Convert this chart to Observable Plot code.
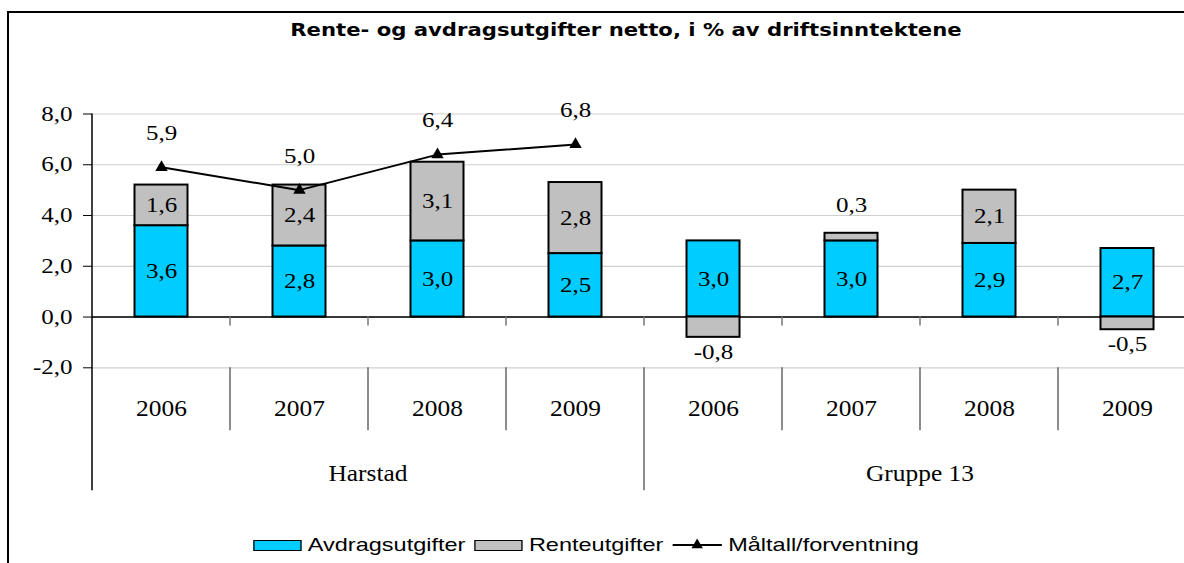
<!DOCTYPE html>
<html><head><meta charset="utf-8">
<script src="https://cdn.jsdelivr.net/npm/d3@7"></script>
<script src="https://cdn.jsdelivr.net/npm/@observablehq/plot@0.6"></script>
<style>
html,body{margin:0;padding:0;background:#fff;overflow:hidden;}
#page{position:relative;width:1184px;height:563px;overflow:hidden;background:#fff;}
#frame{position:absolute;left:7px;top:11px;width:1300px;height:700px;border-left:2px solid #000;border-top:2px solid #000;box-sizing:border-box;}
#title{position:absolute;left:0;top:19px;width:1252px;text-align:center;font-family:"DejaVu Sans",sans-serif;font-weight:bold;font-size:17.5px;line-height:22px;transform:scaleX(1.21);transform-origin:626px 50%;white-space:nowrap;color:#000;}
#chart{position:absolute;left:0;top:60px;}
#legend{position:absolute;left:0;top:536px;width:1181px;height:18px;display:flex;justify-content:center;align-items:center;transform:scaleX(1.27);transform-origin:590.5px 50%;font-family:"Liberation Sans",Arial,sans-serif;font-size:18.5px;color:#000;white-space:nowrap;}
.sw{display:inline-block;width:36px;height:9px;border:1.3px solid #000;margin-right:5px;}
.lab{margin-right:7px;}
</style>
</head><body>
<div id="page">
  <div id="frame"></div>
  <div id="title"></div>
  <div id="chart"></div>
  <div id="legend"></div>
</div>
<script>
// ---- data ----
const titleText = "Rente- og avdragsutgifter netto, i % av driftsinntektene";
const groupNames = ["Harstad", "Gruppe 13"];
const years = ["2006", "2007", "2008", "2009"];
const avdragHarstad = [3.6, 2.8, 3.0, 2.5];
const renteHarstad = [1.6, 2.4, 3.1, 2.8];
const avdragGruppe = [3.0, 3.0, 2.9, 2.7];
const renteGruppe = [-0.8, 0.3, 2.1, -0.5];
const maltallHarstad = [5.9, 5.0, 6.4, 6.8];
const yTicks = [-2, 0, 2, 4, 6, 8];
const seriesNames = ["Avdragsutgifter", "Renteutgifter", "Måltall/forventning"];
const seriesColors = ["#00CCFF", "#C0C0C0"];

const fmt = v => v.toFixed(1).replace(".", ",");
const SX = 1.22; // horizontal stretch of the reference's text
const SXcat = 1.13;

document.getElementById("title").textContent = titleText;

// ---- build tables ----
const keys = [];
groupNames.forEach(g => years.forEach(yr => keys.push(g + "|" + yr)));
const avdrag = avdragHarstad.concat(avdragGruppe);
const rente = renteHarstad.concat(renteGruppe);

const bars = [];
keys.forEach((k, i) => {
  bars.push({key: k, series: seriesNames[0], y1: 0, y2: avdrag[i], value: avdrag[i]});
  const r = rente[i];
  bars.push({key: k, series: seriesNames[1], y1: r < 0 ? 0 : avdrag[i], y2: r < 0 ? r : avdrag[i] + r, value: r});
});
const avdragBars = bars.filter(d => d.series === seriesNames[0]);
const renteBars = bars.filter(d => d.series === seriesNames[1]);
const renteInside = renteBars.filter(d => d.value >= 1);
const renteAbove = renteBars.filter(d => d.value > 0 && d.value < 1);
const renteBelow = renteBars.filter(d => d.value < 0);
const maltall = maltallHarstad.map((v, i) => ({key: keys[i], value: v}));

const serif = "'Liberation Serif','Times New Roman',serif";

const plot = Plot.plot({
  width: 1184, height: 460,
  marginLeft: 92, marginRight: 0, marginTop: 53.5, marginBottom: 152.7,
  x: {type: "band", domain: keys, range: [92, 1196], padding: 0, axis: null},
  y: {domain: [-2, 8], axis: null},
  color: {domain: seriesNames.slice(0, 2), range: seriesColors},
  style: {fontFamily: serif, fontSize: "20px", color: "#000", background: "transparent", overflow: "visible"},
  marks: [
    Plot.ruleY(yTicks, {stroke: "#cfcfcf", strokeWidth: 1.2}),
    Plot.axisY(yTicks, {tickSize: 9, tickPadding: 11, tickFormat: fmt, fontSize: 20.5, stroke: "#000", label: null}),
    Plot.ruleY([0], {stroke: "#000", strokeWidth: 1.5}),
    Plot.barY(bars, {x: "key", y1: "y1", y2: "y2", fill: "series", stroke: "#000", strokeWidth: 2, insetLeft: 42.5, insetRight: 42.5}),
    Plot.text(avdragBars, {x: "key", y: d => d.value / 2, text: d => fmt(d.value), fontSize: 20.5}),
    Plot.text(renteInside, {x: "key", y: d => (d.y1 + d.y2) / 2, text: d => fmt(d.value), fontSize: 20.5}),
    Plot.text(renteAbove, {x: "key", y: "y2", text: d => fmt(d.value), fontSize: 20.5, dy: -28}),
    Plot.text(renteBelow, {x: "key", y: "y2", text: d => fmt(d.value), fontSize: 20.5, dy: 15}),
    Plot.line(maltall, {x: "key", y: "value", stroke: "#000", strokeWidth: 2}),
    Plot.dot(maltall, {x: "key", y: "value", symbol: "triangle", fill: "#000", r: 4.6}),
    Plot.text(maltall, {x: "key", y: "value", text: d => fmt(d.value), fontSize: 20.5, dy: -34}),
    Plot.text(keys, {x: d => d, text: d => d.split("|")[1], frameAnchor: "bottom", dy: 48, fontSize: 22.5, className: "cat"})
  ]
});

// stretch all text horizontally like the reference
d3.select(plot).selectAll("text").each(function() {
  const t = this.getAttribute("transform") || "";
  const isCat = this.closest("g.cat") !== null;
  this.setAttribute("transform", t + ` scale(${isCat ? SXcat : SX},1)`);
});

// category axis structure drawn with the plot's own scales
const xs = plot.scale("x"), ys = plot.scale("y");
const bw = xs.bandwidth;
const y0 = ys.apply(0), yBot = ys.apply(-2), yTop = ys.apply(8);
const g = d3.select(plot).append("g");
g.append("line").attr("x1", xs.range[0]).attr("x2", xs.range[0])
  .attr("y1", yTop).attr("y2", yBot + 123).attr("stroke", "#000").attr("stroke-width", 1.5);
keys.forEach((k, i) => {
  if (i === 0) return;
  const xe = xs.apply(k);
  const groupEdge = k.split("|")[1] === years[0];
  g.append("line").attr("x1", xe).attr("x2", xe).attr("y1", y0).attr("y2", y0 + 9)
    .attr("stroke", "#777").attr("stroke-width", 1.5);
  g.append("line").attr("x1", xe).attr("x2", xe).attr("y1", yBot).attr("y2", yBot + (groupEdge ? 123 : 63))
    .attr("stroke", "#666").attr("stroke-width", 1.5);
});
groupNames.forEach(gn => {
  const gk = keys.filter(k => k.startsWith(gn + "|"));
  const cx = (xs.apply(gk[0]) + xs.apply(gk[gk.length - 1]) + bw) / 2;
  g.append("text").attr("transform", `translate(${cx},${yBot + 106}) scale(${SXcat},1)`)
    .attr("text-anchor", "middle").attr("dy", "0.32em")
    .attr("font-family", serif).attr("font-size", 22.5).attr("fill", "#000").text(gn);
});

document.getElementById("chart").appendChild(plot);

// ---- legend ----
const legend = document.getElementById("legend");
seriesNames.forEach((name, i) => {
  if (i < 2) {
    const sw = document.createElement("span");
    sw.className = "sw";
    sw.style.background = seriesColors[i];
    legend.appendChild(sw);
  } else {
    const ns = "http://www.w3.org/2000/svg";
    const s = document.createElementNS(ns, "svg");
    s.setAttribute("width", 39); s.setAttribute("height", 14);
    s.style.marginRight = "5px";
    const ln = document.createElementNS(ns, "line");
    ln.setAttribute("x1", 0); ln.setAttribute("x2", 39); ln.setAttribute("y1", 7); ln.setAttribute("y2", 7);
    ln.setAttribute("stroke", "#000"); ln.setAttribute("stroke-width", 2);
    const tri = document.createElementNS(ns, "path");
    tri.setAttribute("d", d3.symbol(d3.symbolTriangle, 55)());
    tri.setAttribute("transform", "translate(19.5,7) scale(0.8,1)");
    tri.setAttribute("fill", "#000");
    s.appendChild(ln); s.appendChild(tri);
    legend.appendChild(s);
  }
  const lab = document.createElement("span");
  lab.className = "lab";
  lab.textContent = name;
  legend.appendChild(lab);
});
</script>
</body></html>
